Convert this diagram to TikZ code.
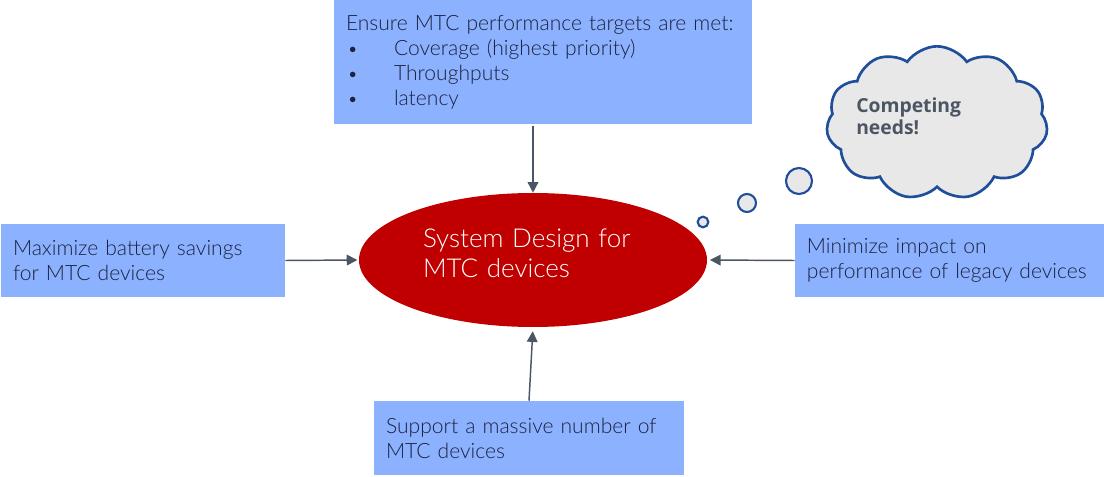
\documentclass[tikz,border=0pt]{standalone}
\usepackage{fontspec}
\IfFontExistsTF{Lato Light}{\setmainfont{Lato Light}}{\setmainfont{Carlito}}
\newfontfamily\cloudfont{Open Sans}
\usetikzlibrary{shapes.geometric, shapes.symbols, arrows.meta}

\definecolor{boxblue}{HTML}{8CB1FF}
\definecolor{sysred}{HTML}{C00000}
\definecolor{textnavy}{HTML}{1B2340}
\definecolor{arrgray}{HTML}{4B5563}
\definecolor{cloudblue}{HTML}{1F4E9B}
\definecolor{cloudgray}{HTML}{E8E8E8}
\definecolor{needsgray}{HTML}{4D5563}

\newcommand{\goalitem}{\makebox[36pt][l]{\hspace{1pt}\fontsize{14}{14}\selectfont\textbullet}}

\begin{document}
\begin{tikzpicture}[x=0.75pt, y=-0.75pt,
    goal/.style={rectangle, fill=boxblue, text=textnavy, align=left,
        inner xsep=9pt, font=\fontsize{15.8}{18.7}\selectfont},
    link/.style={draw=arrgray, line width=1.1pt, -{Triangle[length=8pt,width=8pt]}},
    bubble/.style={circle, draw=cloudblue, fill=cloudgray, line width=1.6pt, inner sep=0pt}]
    \useasboundingbox (0,0) rectangle (1104,477);

    % goals round the design
    \node[goal, minimum width=313.5pt, minimum height=93pt, text width=295.5pt] (top) at (543,62)
        {Ensure MTC performance targets are met:\\
         \goalitem Coverage (highest priority)\\
         \goalitem Throughputs\\
         \goalitem latency};
    \node[goal, minimum width=213pt, minimum height=54.75pt, text width=195pt] (left) at (143,260.5)
        {Maximize battery savings\\for MTC devices};
    \node[goal, minimum width=248pt, minimum height=54.75pt, text width=230pt] (right) at (960.3,260.5)
        {Minimize impact on\\performance of legacy devices};
    \node[goal, minimum width=232.5pt, minimum height=55.5pt, text width=214.5pt] (bottom) at (529,438)
        {Support a massive number of\\MTC devices};

    \node[ellipse, fill=sysred, text=white, minimum width=261pt, minimum height=100.5pt,
        text width=165pt, align=left, font=\fontsize{19.5}{22.5}\selectfont] (sys) at (533,260)
        {System Design for\\MTC devices\\[-13pt]\mbox{}};

    \draw[link, shorten <=1.5pt] (top.south -| sys.north) -- (sys.north);
    \draw[link, shorten >=1pt] (left.east) -- (sys.west);
    \draw[link, shorten >=2pt] (right.west) -- (sys.east);
    \draw[link, shorten >=3pt] (bottom.north) -- (sys.south);

    % thought cloud
    \node[bubble, minimum size=8pt] (b1) at (703,222) {};
    \node[bubble, minimum size=13.5pt] (b2) at (747,203) {};
    \node[bubble, minimum size=19.5pt] (b3) at (799,181) {};
    \node[cloud, cloud puffs=11, cloud puff arc=110, aspect=1.3, minimum width=166pt,
        minimum height=115pt, draw=cloudblue, fill=cloudgray, line width=2pt] (cloud) at (937,123) {};
    \node[anchor=north west, inner sep=0pt, align=left, text=needsgray,
        font=\cloudfont\bfseries\fontsize{14.5}{16.5}\selectfont] (needs) at (856,98)
        {Competing\\needs!};
\end{tikzpicture}
\end{document}
